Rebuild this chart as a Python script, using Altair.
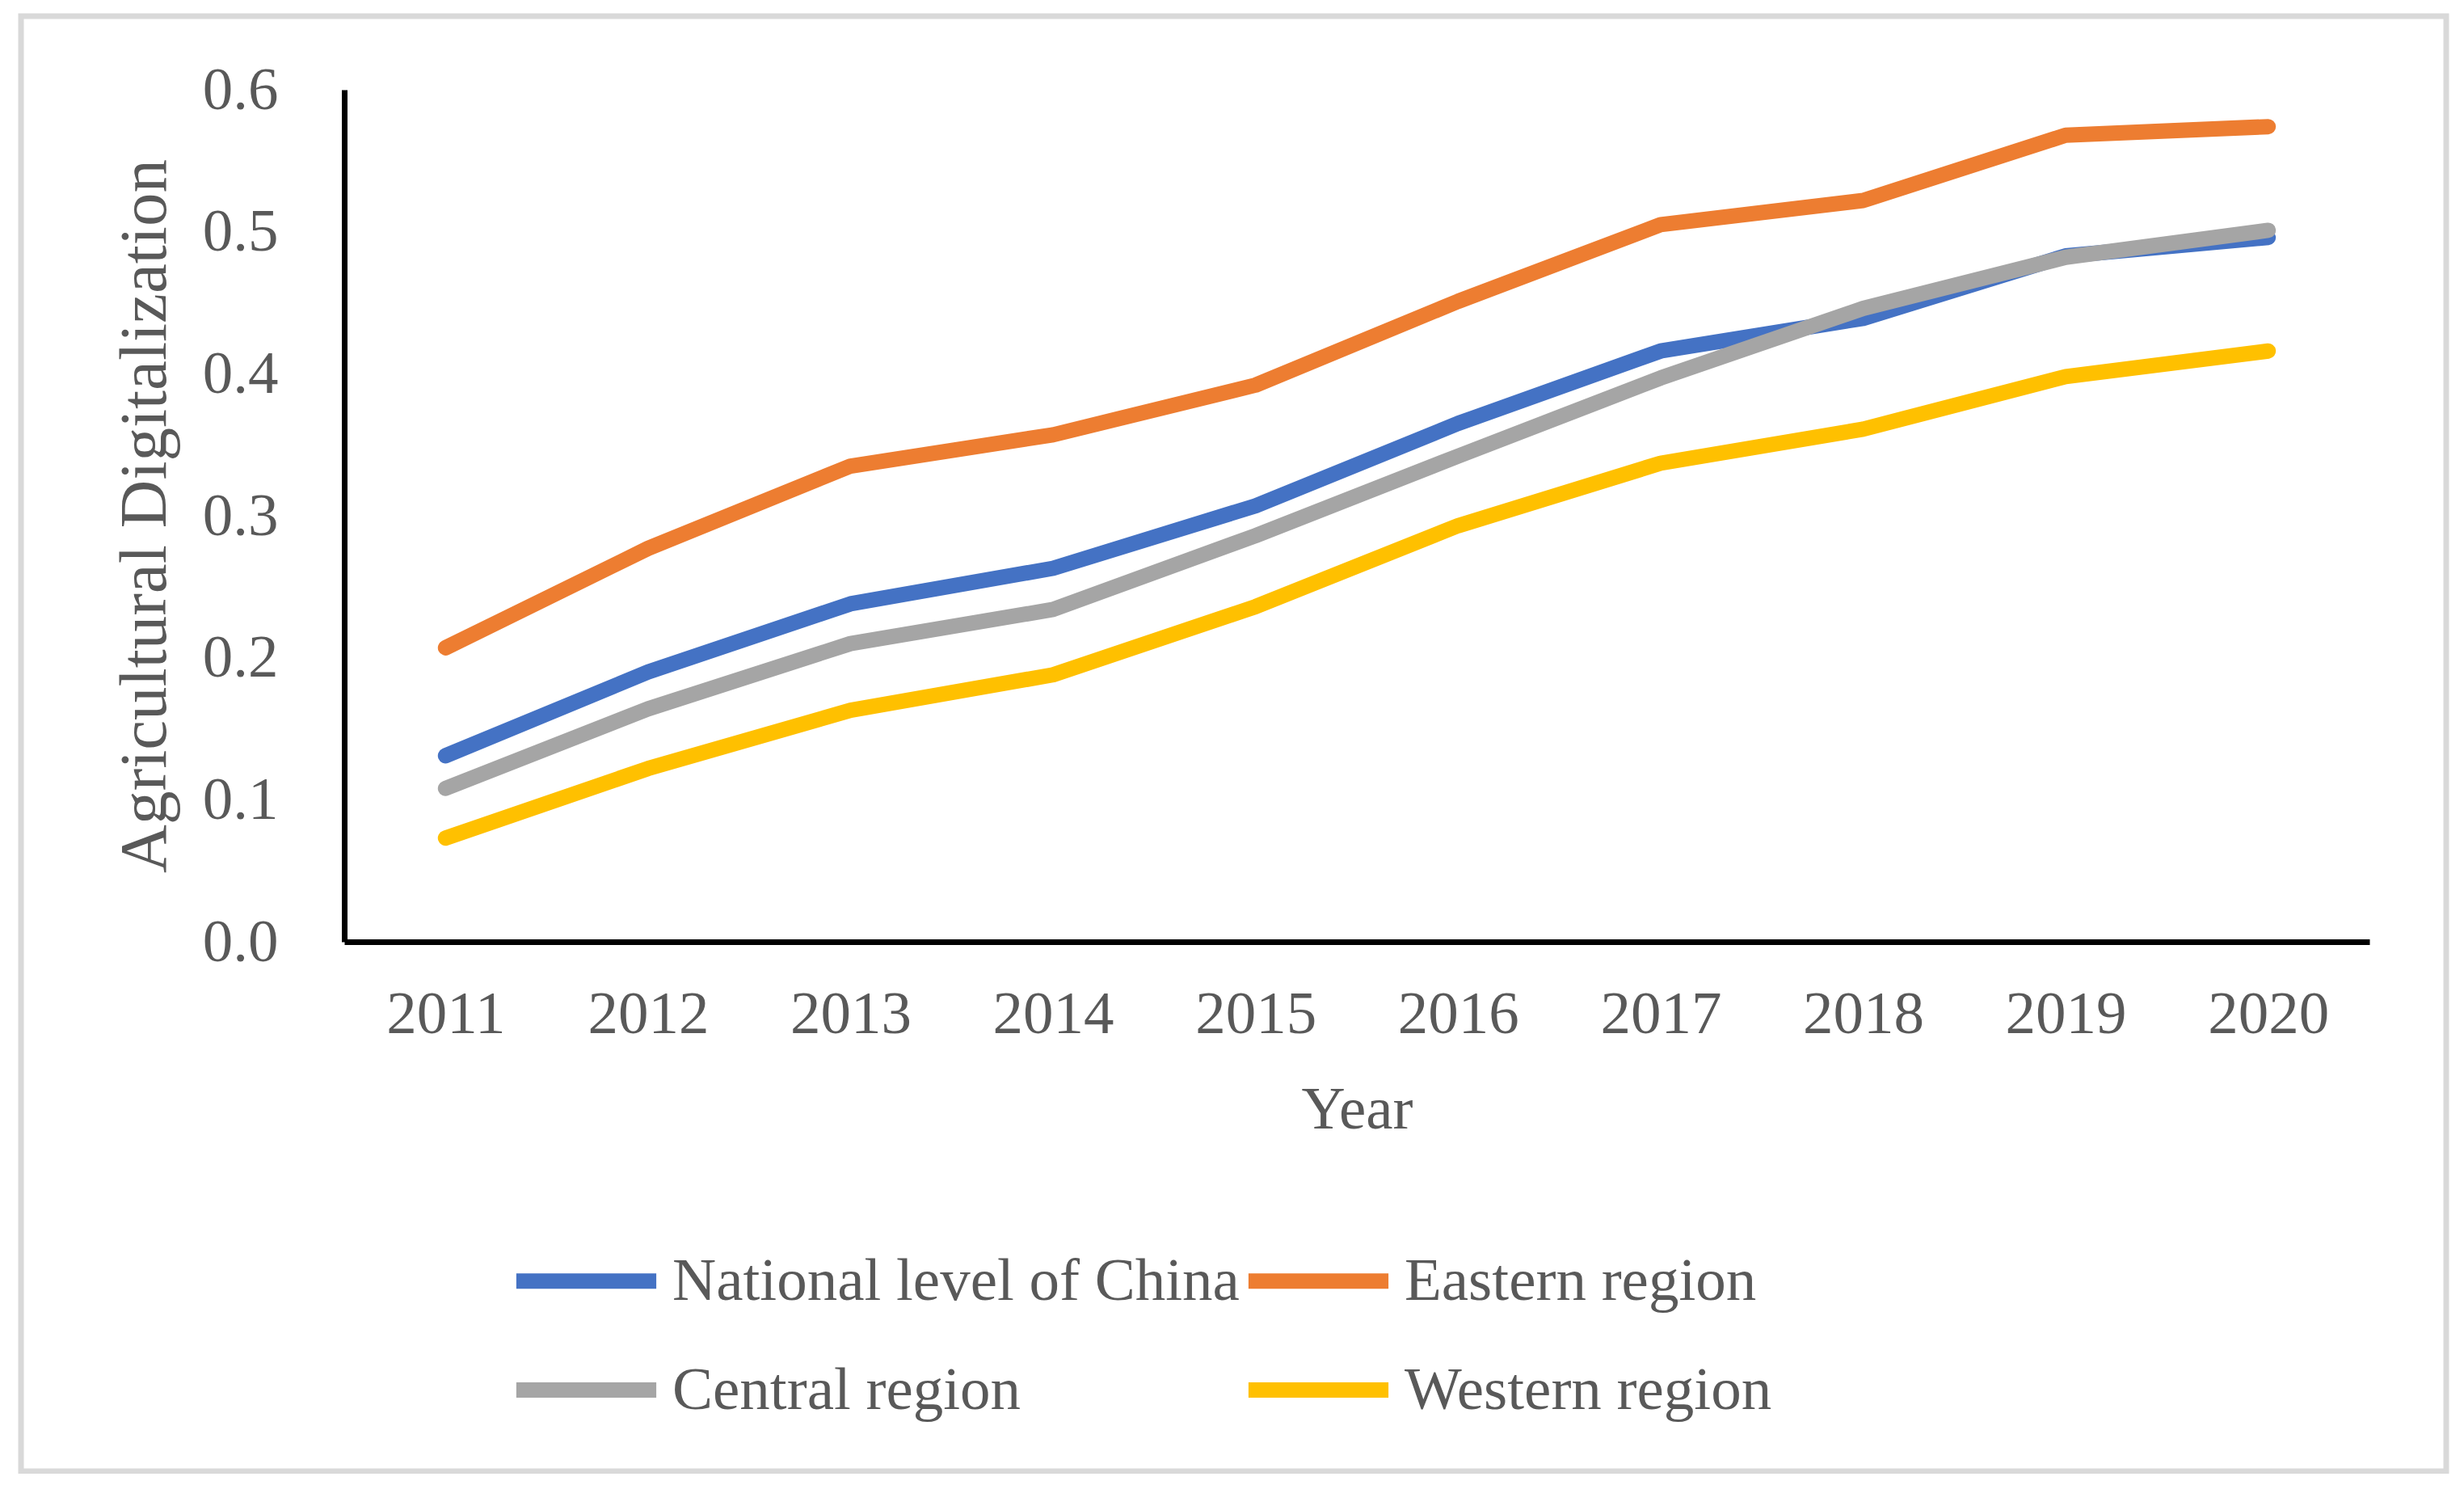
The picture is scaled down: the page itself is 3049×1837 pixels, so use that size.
import altair as alt
import pandas as pd

years = ["2011", "2012", "2013", "2014", "2015", "2016", "2017", "2018", "2019", "2020"]
series_names = ["National level of China", "Eastern region", "Central region", "Western region"]
national = [0.131, 0.190, 0.238, 0.263, 0.307, 0.365, 0.416, 0.439, 0.483, 0.496]
eastern = [0.207, 0.277, 0.335, 0.357, 0.392, 0.451, 0.505, 0.522, 0.568, 0.574]
central = [0.108, 0.164, 0.210, 0.234, 0.286, 0.342, 0.397, 0.446, 0.482, 0.501]
western = [0.073, 0.122, 0.163, 0.188, 0.236, 0.293, 0.337, 0.361, 0.398, 0.416]
colors = ["#4472C4", "#ED7D31", "#A5A5A5", "#FFC000"]
y_ticks = [0.0, 0.1, 0.2, 0.3, 0.4, 0.5, 0.6]

rows = []
for name, vals in zip(series_names, [national, eastern, central, western]):
    for yr, v in zip(years, vals):
        rows.append({"Year": yr, "Series": name, "Value": v})
df = pd.DataFrame(rows)

FONT = "Liberation Serif"
TXT = "#595959"
W, H = 2506, 1054

lines = alt.Chart(df).mark_line(strokeWidth=19, strokeCap="round", strokeJoin="round").encode(
    x=alt.X("Year:O", sort=years, scale=alt.Scale(padding=0.5),
            axis=alt.Axis(title="Year", labelAngle=0, labelBaseline="alphabetic",
                          labelPadding=112, titleBaseline="alphabetic", titleY=230, titleX=W / 2)),
    y=alt.Y("Value:Q", scale=alt.Scale(domain=[0, 0.6], nice=False),
            axis=alt.Axis(title="Agricultural Digitalization", values=y_ticks, format=".1f",
                          labelPadding=82, titleBaseline="alphabetic", titleX=-222, titleY=H / 2,
                          titleFontSize=83)),
    color=alt.Color("Series:N", sort=series_names,
                    scale=alt.Scale(domain=series_names, range=colors),
                    legend=alt.Legend(orient="none", legendX=203, legendY=1377, columns=2,
                                      direction="horizontal",
                                      title=None, symbolType="stroke", symbolStrokeWidth=19,
                                      symbolSize=30000, labelFontSize=75, labelFont=FONT,
                                      labelColor=TXT, labelOffset=10, columnPadding=-28,
                                      rowPadding=-45, padding=0, labelLimit=0)),
)

border = alt.Chart(pd.DataFrame({"a": [0]})).mark_rect(
    fillOpacity=0, stroke="#D9D9D9", strokeWidth=7
).encode(x=alt.value(-400), x2=alt.value(2601), y=alt.value(-91), y2=alt.value(1709))

chart = alt.layer(border, lines).properties(
    width=W, height=H,
    autosize=alt.AutoSizeParams(type="none"),
    padding={"left": 418, "top": 103, "right": 99, "bottom": 658},
    background="white",
).configure_view(stroke=None).configure_axis(
    domainColor="black", domainWidth=7, ticks=False, grid=False,
    labelFont=FONT, labelFontSize=75, labelColor=TXT,
    titleFont=FONT, titleFontSize=75, titleColor=TXT, titleFontWeight="normal",
)

chart.save("out.html", embed_options={"renderer": "svg", "actions": False})
